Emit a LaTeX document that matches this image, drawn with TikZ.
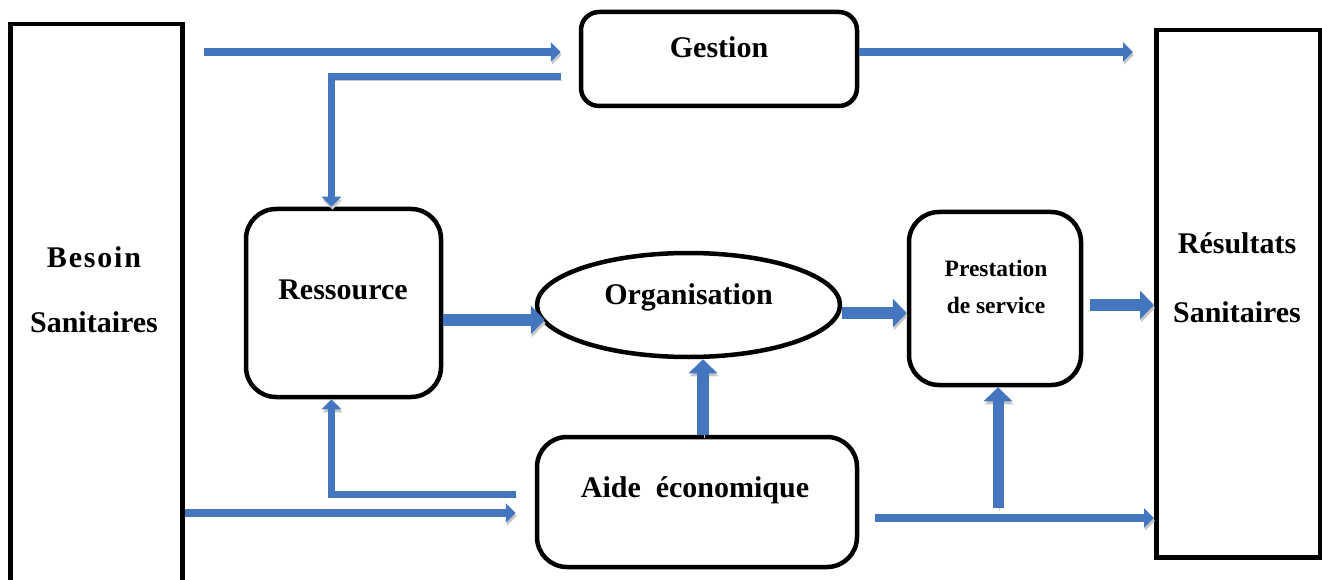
\documentclass[tikz,border=0pt]{standalone}
\usepackage{fontspec}
\setmainfont{Liberation Serif}
\usetikzlibrary{arrows.meta,positioning,shapes.geometric}
\definecolor{arrowblue}{RGB}{67,118,190}
\tikzset{
bigbox/.style={
  rectangle, draw=black, line width=4.5pt, anchor=north west
  },
roundbox/.style={
  rectangle, rounded corners=#1, draw=black, line width=4.5pt
  },
lbl/.style={
  align=center, inner sep=0pt, text=black,
  font=\fontsize{30}{65}\selectfont\bfseries
  },
flow/.style={
  draw=arrowblue, line width=8.5pt,
  -{Triangle[width=19pt,length=10pt]},
  preaction={draw=black!22, transform canvas={shift={(1pt,-3pt)}}}
  },
bigflow/.style={
  draw=arrowblue, line width=12.5pt,
  -{Triangle[width=28pt,length=14pt]},
  preaction={draw=black!22, transform canvas={shift={(1pt,-3pt)}}}
  }
}

\begin{document}
\begin{tikzpicture}[x=1pt,y=-1pt]
\useasboundingbox (0,0) rectangle (1322,580);
\clip (0,0) rectangle (1322,580);

% boxes

\node[bigbox, minimum width=172pt, minimum height=600pt] at (8,22) (besoin) {};
\node[bigbox, minimum width=164pt, minimum height=527pt] at (1154,28) (resultats) {};

\node[roundbox=18pt, minimum width=276pt, minimum height=94pt] at (719,59) (gestion) {};
\node[roundbox=30pt, minimum width=195pt, minimum height=188pt] at (343.5,303) (ressource) {};
\node[ellipse, draw=black, line width=4.5pt, minimum width=303pt, minimum height=104pt]
  at (688.5,305) (organisation) {};
\node[roundbox=30pt, minimum width=172pt, minimum height=173pt] at (995,298.5) (prestation) {};
\node[roundbox=30pt, minimum width=320pt, minimum height=130pt] at (697,502) (aide) {};

% texts

\node[lbl] at (94,290) (besoin-t) {{\addfontfeature{LetterSpace=6}Besoin}\\Sanitaires};
\node[lbl, font=\fontsize{30}{69}\selectfont\bfseries] at (1237,278) (resultats-t) {Résultats\\Sanitaires};
\node[lbl] at (719,47) (gestion-t) {Gestion};
\node[lbl] at (343,290) (ressource-t) {Ressource};
\node[lbl] at (688.5,297) (organisation-t) {Organisation};
\node[lbl, font=\fontsize{23.5}{37}\selectfont\bfseries] at (996,287) (prestation-t) {Prestation\\de service};
\node[lbl] at (695,490) (aide-t) {Aide~ économique};

% levels of the connectors

\coordinate (lvl-a) at (0,52);
\coordinate (lvl-b) at (0,77);
\coordinate (lvl-c) at (0,494);
\coordinate (lvl-d) at (0,513);
\coordinate (lvl-e) at (0,518);
\coordinate (lvl-o) at (0,320);
\coordinate (lvl-p) at (0,313);
\coordinate (lvl-r) at (0,305);
\coordinate (col-o) at (703,0);
\coordinate (col-p) at (998,0);

% connectors

\draw[flow, shorten <=19pt, shorten >=18pt] (besoin.east |- lvl-a) -- (gestion.west |- lvl-a);
\draw[flow, shorten >=21pt] (gestion.east |- lvl-a) -- (resultats.west |- lvl-a);
\draw[flow, line width=7pt, shorten <=18pt] (gestion.west |- lvl-b) -| ([xshift=-12pt]ressource.north);
\draw[flow, line width=7pt, shorten <=19pt] (aide.west |- lvl-c) -| ([xshift=-12pt]ressource.south);
\draw[flow, shorten >=19pt] (besoin.east |- lvl-d) -- (aide.west |- lvl-d);
\draw[flow, shorten <=16pt] (aide.east |- lvl-e) -- (resultats.west |- lvl-e);

\draw[bigflow, shorten >=-10pt] (ressource.east |- lvl-o) -- (organisation.west |- lvl-o);
\draw[bigflow] (organisation.east |- lvl-p) -- (prestation.west |- lvl-p);
\draw[bigflow, shorten <=7pt] (prestation.east |- lvl-r) -- (resultats.west |- lvl-r);
\draw[bigflow] (aide.north -| col-o) -- (organisation.south -| col-o);
\draw[bigflow, line width=11pt, shorten <=10pt] (col-p |- lvl-e) -- (prestation.south -| col-p);

\end{tikzpicture}
\end{document}
